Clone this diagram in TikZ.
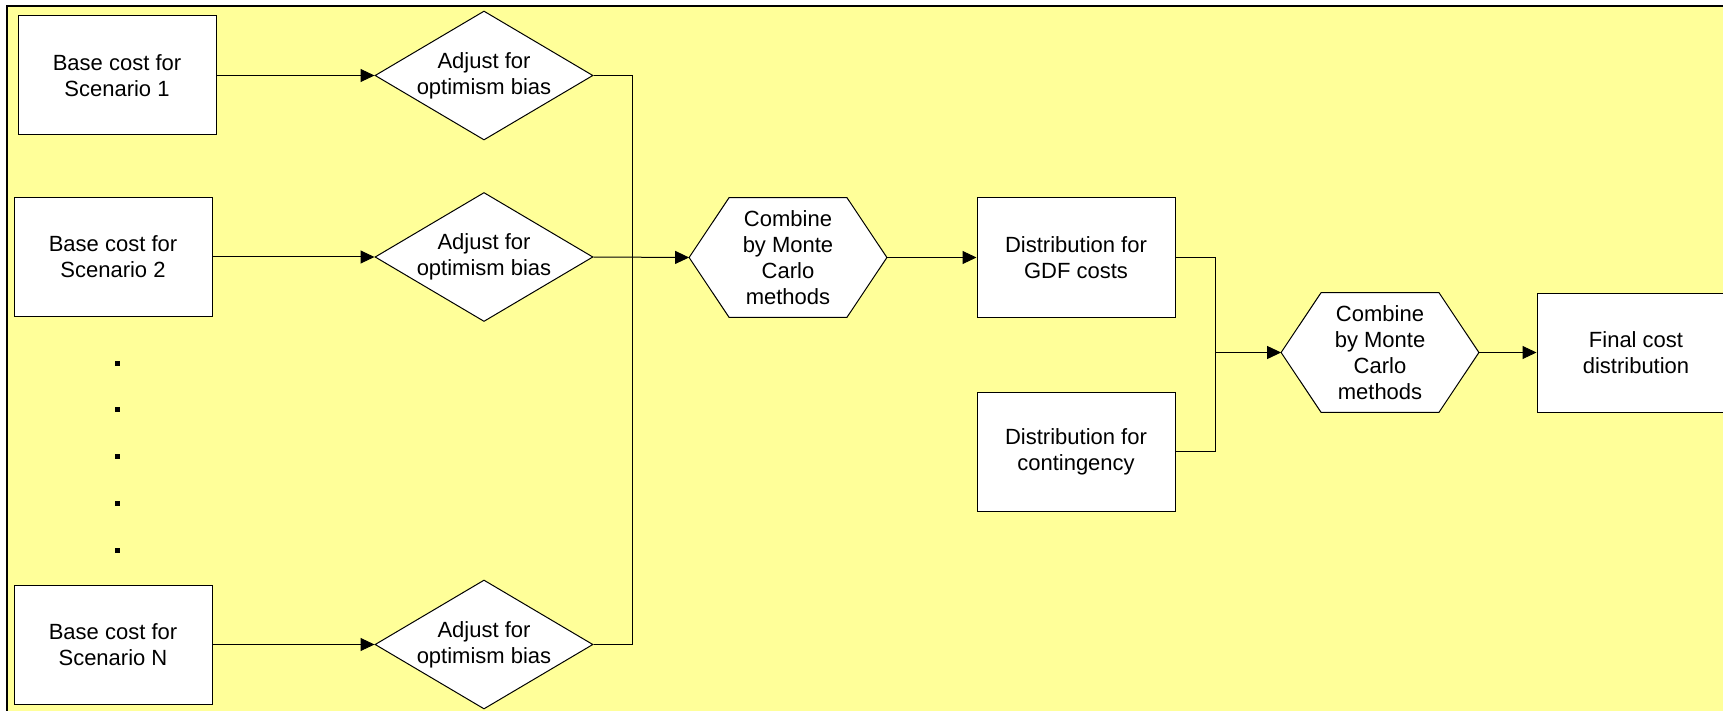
\documentclass[tikz,border=0pt]{standalone}
\usepackage{fontspec}
\setmainfont{Liberation Sans}
\usetikzlibrary{shapes.geometric,arrows.meta,backgrounds}

\definecolor{paleYellow}{RGB}{255,255,153}

% outline of a hexagon round a plain node
\newcommand{\hexFrame}[1]{%
  \filldraw [fill = white, line width = 0.5pt]
    (#1.west) -- ([xshift = 20pt]#1.north west)
    -- ([xshift = -20pt]#1.north east) -- (#1.east)
    -- ([xshift = -20pt]#1.south east)
    -- ([xshift = 20pt]#1.south west) -- cycle;}

\begin{document}
\begin{tikzpicture}
    [x = 0.5pt, y = -0.5pt,
     every node/.style = {font = \fontsize{11}{13}\selectfont},
     costBox/.style = {rectangle, draw, fill = white, line width = 0.5pt,
                       minimum width = 99pt, minimum height = 59.5pt,
                       inner sep = 0pt, align = center},
     adjustDiamond/.style = {diamond, draw, fill = white, line width = 0.5pt,
                             aspect = 1.69, inner sep = 0pt,
                             minimum width = 109pt, minimum height = 64.5pt,
                             align = center},
     combineHex/.style = {rectangle, inner sep = 0pt, align = center,
                          minimum width = 98.5pt, minimum height = 59.5pt},
     dotNode/.style = {rectangle, fill, inner sep = 0pt,
                       minimum size = 2.5pt},
     wire/.style = {line width = 0.5pt},
     link/.style = {line width = 0.5pt,
                    -{Triangle[length = 7pt, width = 6.5pt]}}]

    \useasboundingbox (0,0) rectangle (1723,711);

    \node at (117,  75.5) [costBox]       (base1)   {Base cost for\\Scenario 1};
    \node at (484,  75.5) [adjustDiamond] (adjust1) {Adjust for\\optimism bias};

    \node at (113, 257)   [costBox]       (base2)   {Base cost for\\Scenario 2};
    \node at (484, 257)   [adjustDiamond] (adjust2) {Adjust for\\optimism bias};

    \foreach \y [count = \i] in {363, 409, 456, 503, 550}
      \node at (117,\y) [dotNode] (dot\i) {};

    \node at (113, 644.5) [costBox]       (baseN)   {Base cost for\\Scenario N};
    \node at (484, 644.5) [adjustDiamond] (adjustN) {Adjust for\\optimism bias};

    \node at (788, 257.5) [combineHex]    (combine1)
      {Combine\\by Monte\\Carlo\\methods};
    \node at (1076,257.5) [costBox]       (gdf)     {Distribution for\\GDF costs};
    \node at (1076,451.5) [costBox]       (contin)  {Distribution for\\contingency};

    \node at (1380,352.5) [combineHex]    (combine2)
      {Combine\\by Monte\\Carlo\\methods};
    \node at (1636,352.5) [costBox]       (final)   {Final cost\\distribution};

    \coordinate (busTop) at (632, 75.5);
    \coordinate (busBot) at (632, 644.5);
    \coordinate (joinTop) at (1215, 257.5);
    \coordinate (joinBot) at (1215, 451.5);
    \coordinate (join) at (1215, 352.5);

    \draw [link] (base1.east) -- (adjust1.west);
    \draw [link] (base2.east) -- (adjust2.west);
    \draw [link] (baseN.east) -- (adjustN.west);
    \draw [wire] (adjust1.east) -- (busTop) -- (busBot) -- (adjustN.east);
    \draw [link] (adjust2.east) -- (combine1.west);
    \draw [link] (combine1.east) -- (gdf.west);
    \draw [wire] (gdf.east) -- (joinTop) -- (joinBot) -- (contin.east);
    \draw [link] (join) -- (combine2.west);
    \draw [link] (combine2.east) -- (final.west);

    \begin{pgfonlayer}{background}
      \fill [paleYellow] (7,6) rectangle (1760,740);
      \draw [line width = 1pt] (7,740) -- (7,6) -- (1760,6);
      \hexFrame{combine1}
      \hexFrame{combine2}
    \end{pgfonlayer}
\end{tikzpicture}
\end{document}
